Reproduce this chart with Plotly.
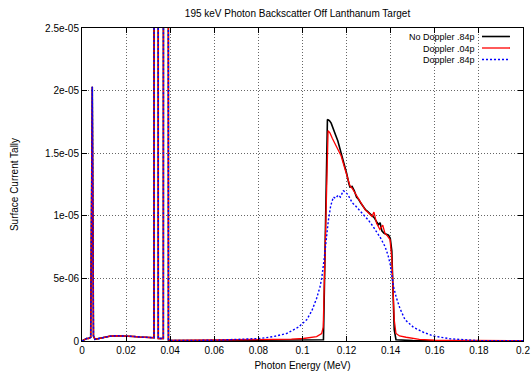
import plotly.graph_objects as go

# ---------------- data (values in units of 1e-5) ----------------
# low-energy region shared by all three runs (fluorescence lines)
low_E = [0.0, 0.0021, 0.0029, 0.00395, 0.00467, 0.0052, 0.0059, 0.0075, 0.0097,
         0.0125, 0.0157, 0.0185, 0.0203, 0.0235, 0.0263, 0.0300, 0.0322, 0.03265,
         0.0336, 0.0346, 0.0369, 0.03805, 0.0392]
low_V = [0.0, 0.02, 0.02, 0.03, 2.03, 0.04, 0.013, 0.02, 0.03,
         0.038, 0.042, 0.041, 0.04, 0.036, 0.032, 0.028, 0.026, 0.026,
         100.0, 0.02, 0.02, 100.0, 0.008]

nodop_E = [0.040, 0.060, 0.080, 0.100, 0.1095, 0.1113, 0.1122, 0.1130, 0.1140, 0.1150,
           0.1160, 0.1170, 0.1180, 0.1190, 0.1200, 0.1210, 0.1215, 0.1225, 0.1235,
           0.1245, 0.1255, 0.1265, 0.1275, 0.1285, 0.1295, 0.1305, 0.1315, 0.1325,
           0.1335, 0.1345, 0.1352, 0.1360, 0.1370, 0.1380, 0.1390, 0.1398, 0.1405,
           0.1410, 0.1416, 0.1424, 0.150, 0.200]
nodop_V = [0.005, 0.004, 0.005, 0.006, 0.01, 1.77, 1.76, 1.74, 1.70, 1.645,
           1.60, 1.535, 1.49, 1.42, 1.34, 1.26, 1.23, 1.235, 1.20,
           1.15, 1.13, 1.10, 1.07, 1.05, 1.035, 1.02, 1.00, 0.985,
           0.955, 0.93, 0.945, 0.88, 0.86, 0.855, 0.845, 0.82, 0.72,
           0.43, 0.09, 0.01, 0.003, 0.002]

dop04_E = [0.040, 0.060, 0.080, 0.095, 0.1004, 0.1064, 0.1087, 0.1094, 0.1116, 0.1125,
           0.1135, 0.1145, 0.1155, 0.1165, 0.1175, 0.1185, 0.1195, 0.1205, 0.1215,
           0.1225, 0.1235, 0.1245, 0.1255, 0.1265, 0.1275, 0.1285, 0.1295, 0.1305,
           0.1315, 0.1324, 0.1336, 0.1345, 0.1351, 0.1364, 0.1374, 0.1385, 0.1397,
           0.1405, 0.1410, 0.1416, 0.1424, 0.1440, 0.147, 0.153, 0.160, 0.180, 0.200]
dop04_V = [0.005, 0.008, 0.01, 0.015, 0.02, 0.035, 0.06, 0.11, 1.68, 1.66,
           1.62, 1.585, 1.55, 1.52, 1.48, 1.42, 1.36, 1.30, 1.24,
           1.22, 1.19, 1.16, 1.13, 1.10, 1.075, 1.045, 1.03, 1.01,
           0.995, 1.03, 0.94, 0.91, 0.89, 0.925, 0.86, 0.84, 0.81,
           0.66, 0.43, 0.17, 0.06, 0.04, 0.03, 0.013, 0.006, 0.003, 0.002]

dop84_E = [0.040, 0.060, 0.0717, 0.0807, 0.0868, 0.0928, 0.0981, 0.1019, 0.1042, 0.1064,
           0.1079, 0.1087, 0.1098, 0.1107, 0.1117, 0.1128, 0.1140, 0.1150, 0.1162,
           0.1172, 0.1185, 0.1195, 0.1205, 0.1215, 0.1225, 0.1240, 0.1261, 0.1280,
           0.1299, 0.1318, 0.1336, 0.1355, 0.1374, 0.1387, 0.1397, 0.1405, 0.1412,
           0.1425, 0.1442, 0.1465, 0.1488, 0.1503, 0.1548, 0.1593, 0.1669, 0.1745,
           0.180, 0.200]
dop84_V = [0.004, 0.006, 0.013, 0.02, 0.035, 0.06, 0.11, 0.17, 0.24, 0.34,
           0.43, 0.50, 0.65, 0.81, 0.96, 1.08, 1.15, 1.14, 1.165,
           1.15, 1.20, 1.19, 1.17, 1.14, 1.105, 1.08, 1.04, 1.00,
           0.965, 0.92, 0.875, 0.82, 0.755, 0.69, 0.62, 0.53, 0.44,
           0.35, 0.26, 0.17, 0.13, 0.11, 0.07, 0.04, 0.018, 0.008,
           0.003, 0.002]

x_ticks = [0, 0.02, 0.04, 0.06, 0.08, 0.1, 0.12, 0.14, 0.16, 0.18, 0.2]
x_tick_text = ["0", "0.02", "0.04", "0.06", "0.08", "0.1", "0.12", "0.14",
               "0.16", "0.18", "0.2"]
y_ticks = [0, 5e-6, 1e-5, 1.5e-5, 2e-5, 2.5e-5]
y_tick_text = ["0", "5e-06", "1e-05", "1.5e-05", "2e-05", "2.5e-05"]

series = [
    ("No Doppler .84p", nodop_E, nodop_V, "#000000", "solid", 1.6),
    ("Doppler .04p", dop04_E, dop04_V, "#ff0000", "solid", 1.3),
    ("Doppler .84p", dop84_E, dop84_V, "#0000ff", "2px,2px", 1.4),
]

FONT = "Liberation Sans, Arial, Helvetica, sans-serif"
W, H = 532, 379
L, R, T, B = 82, 9, 28, 38
pw, ph = W - L - R, H - T - B

fig = go.Figure()
for name, E, V, col, dash, lw in series:
    xs = low_E + E
    ys = [v * 1e-5 for v in (low_V + V)]
    fig.add_trace(go.Scatter(x=xs, y=ys, mode="lines", name=name,
                             line=dict(color=col, dash=dash, width=lw),
                             showlegend=False))


def px2paper_x(px):
    return (px - L) / pw


def px2paper_y(py):
    return (H - B - py) / ph


# gnuplot-style key: right-aligned text block, samples on the right
fig.add_annotation(x=px2paper_x(476), y=px2paper_y(48), xref="paper", yref="paper",
                   text="<br>".join(s[0] for s in series), align="right",
                   showarrow=False, xanchor="right", yanchor="middle", borderpad=0,
                   font=dict(family=FONT, size=9, color="black"))
rows_y = [36.5, 48, 59.5]
for (name, E, V, col, dash, lw), py in zip(series, rows_y):
    fig.add_shape(type="line", xref="paper", yref="paper",
                  x0=px2paper_x(482), x1=px2paper_x(510),
                  y0=px2paper_y(py), y1=px2paper_y(py),
                  line=dict(color=col, dash=dash, width=lw))

axis_common = dict(showline=True, linecolor="black", linewidth=1, mirror="allticks",
                   ticks="inside", ticklen=5, tickcolor="black", tickwidth=1,
                   showgrid=True, gridcolor="#666666", griddash="1px,2px", gridwidth=1,
                   zeroline=False, automargin=False,
                   tickfont=dict(family=FONT, size=10, color="black"))

fig.update_layout(
    width=W, height=H,
    margin=dict(l=L, r=R, t=T, b=B, autoexpand=False),
    paper_bgcolor="white", plot_bgcolor="white",
    title=dict(text="195 keV Photon Backscatter Off Lanthanum Target",
               x=297.5 / W, xanchor="center", y=1 - 13 / H, yanchor="middle",
               font=dict(family=FONT, size=10, color="black")),
    xaxis=dict(range=[0, 0.2], tickmode="array", tickvals=x_ticks, ticktext=x_tick_text,
               title=dict(text="Photon Energy (MeV)", standoff=6,
                          font=dict(family=FONT, size=10, color="black")),
               **axis_common),
    yaxis=dict(range=[0, 2.5e-5], tickmode="array", tickvals=y_ticks, ticktext=y_tick_text,
               title=dict(text="Surface Current Tally", standoff=24,
                          font=dict(family=FONT, size=10, color="black")),
               **axis_common),
)

fig.write_html("out.html")
